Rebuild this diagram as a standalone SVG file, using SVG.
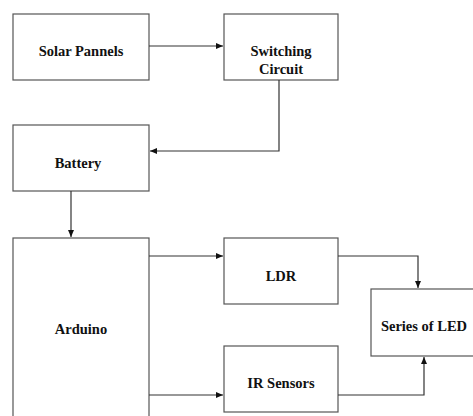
<svg xmlns="http://www.w3.org/2000/svg" width="473" height="416" viewBox="0 0 473 416">
<style>
.box{fill:#fff;stroke:#555;stroke-width:1.2}
.lbl{font-family:"Liberation Serif","DejaVu Serif",serif;font-weight:bold;font-size:14.5px;fill:#111;text-anchor:middle}
.con{fill:none;stroke:#333;stroke-width:1.2}
</style>
<defs>
<marker id="ah" markerWidth="8" markerHeight="8" refX="7" refY="4" orient="auto" markerUnits="userSpaceOnUse">
<path d="M0,1 L7,4 L0,7 Z" fill="#111"/>
</marker>
</defs>
<rect width="473" height="416" fill="#fff"/>
<g id="solar"><rect class="box" x="13" y="14" width="136" height="66"/><text class="lbl" x="81" y="56">Solar Pannels</text></g>
<g id="switch"><rect class="box" x="224" y="14" width="114" height="66"/><text class="lbl" x="281" y="56">Switching</text><text class="lbl" x="281" y="74">Circuit</text></g>
<g id="battery"><rect class="box" x="13" y="125" width="136" height="66"/><text class="lbl" x="78" y="168">Battery</text></g>
<g id="arduino"><rect class="box" x="13" y="238" width="136" height="190"/><text class="lbl" x="81" y="334">Arduino</text></g>
<g id="ldr"><rect class="box" x="224" y="238" width="114" height="66"/><text class="lbl" x="281" y="281">LDR</text></g>
<g id="ir"><rect class="box" x="224" y="346" width="114" height="66"/><text class="lbl" x="281" y="388">IR Sensors</text></g>
<g id="led"><rect class="box" x="371" y="289" width="110" height="67"/><text class="lbl" x="424" y="331">Series of LED</text></g>
<g id="connectors">
<path class="con" d="M149,46 H223" marker-end="url(#ah)"/>
<path class="con" d="M279,80 V151 H150" marker-end="url(#ah)"/>
<path class="con" d="M71,191 V237" marker-end="url(#ah)"/>
<path class="con" d="M149,256 H223" marker-end="url(#ah)"/>
<path class="con" d="M149,395 H223" marker-end="url(#ah)"/>
<path class="con" d="M338,256 H418 V288" marker-end="url(#ah)"/>
<path class="con" d="M338,395 H424 V357" marker-end="url(#ah)"/>
</g>
</svg>
